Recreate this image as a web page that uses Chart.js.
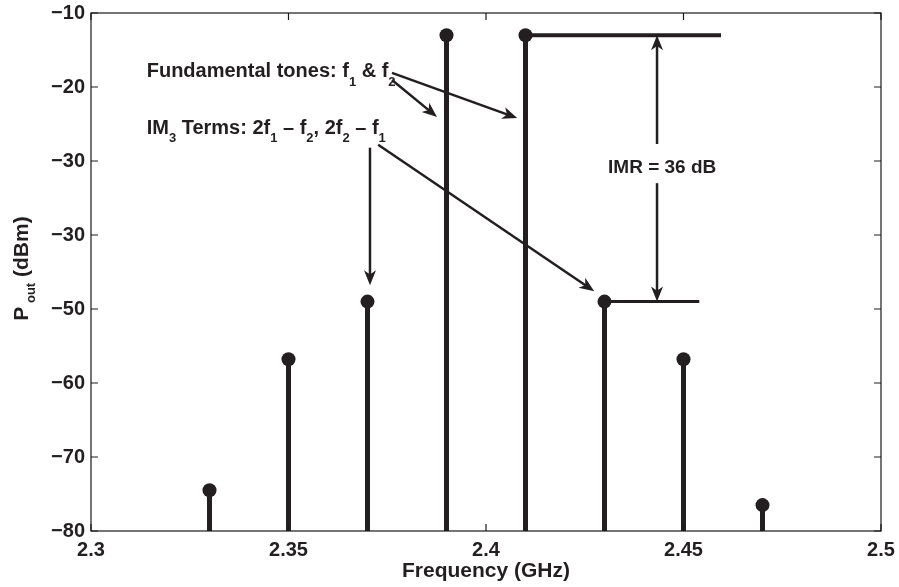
<!DOCTYPE html>
<html>
<head>
<meta charset="utf-8">
<script src="https://cdn.jsdelivr.net/npm/chart.js@4/dist/chart.umd.min.js"></script>
<style>
  html, body { margin: 0; padding: 0; background: #ffffff; }
  #wrap { width: 899px; height: 587px; }
</style>
</head>
<body>
<div id="wrap"><canvas id="spectrum" width="899" height="587"></canvas></div>
<script>
// Two-tone output spectrum: tone frequencies (GHz) and output power (dBm)
const frequencies = [2.33, 2.35, 2.37, 2.39, 2.41, 2.43, 2.45, 2.47];
const powerDbm    = [-74.5, -56.8, -49, -13, -13, -49, -56.8, -76.5];

// Axis tick labels, bottom to top / left to right
const xTickLabels = ['2.3', '2.35', '2.4', '2.45', '2.5'];
const yTickLabels = ['\u221280', '\u221270', '\u221260', '\u221250', '\u221230', '\u221230', '\u221220', '\u221210'];

// Levels used for the IMR marker
const fundamentalDbm = powerDbm[4];
const im3Dbm = powerDbm[5];
const imrDb = fundamentalDbm - im3Dbm;

const FONT = "'Liberation Sans', Arial, Helvetica, sans-serif";
const INK = '#231f20';

function setFont(ctx, size) { ctx.font = 'bold ' + size + 'px ' + FONT; }

// Draws text made of normal and subscript runs; y is the baseline
function richText(ctx, parts, x, y, size, align, subSize, subDrop) {
  subSize = subSize || 12;
  subDrop = subDrop || 8;
  const widths = parts.map(p => { setFont(ctx, p[1] ? subSize : size); return ctx.measureText(p[0]).width; });
  const total = widths.reduce((a, b) => a + b, 0);
  let cx = align === 'center' ? x - total / 2 : x;
  ctx.textAlign = 'left';
  ctx.textBaseline = 'alphabetic';
  parts.forEach((p, i) => {
    setFont(ctx, p[1] ? subSize : size);
    ctx.fillText(p[0], cx, y + (p[1] ? subDrop : 0));
    cx += widths[i];
  });
}

function arrowHead(ctx, x1, y1, x2, y2) {
  const ang = Math.atan2(y2 - y1, x2 - x1);
  const len = 15, half = 6;
  const c = Math.cos(ang), s = Math.sin(ang);
  ctx.beginPath();
  ctx.moveTo(x2, y2);
  ctx.lineTo(x2 - len * c + half * s, y2 - len * s - half * c);
  ctx.lineTo(x2 - len * 0.72 * c, y2 - len * 0.72 * s);
  ctx.lineTo(x2 - len * c - half * s, y2 - len * s + half * c);
  ctx.closePath();
  ctx.fill();
}

function arrow(ctx, xs, ys, p, q, both) {
  const x1 = xs.getPixelForValue(p[0]), y1 = ys.getPixelForValue(p[1]);
  const x2 = xs.getPixelForValue(q[0]), y2 = ys.getPixelForValue(q[1]);
  const ang = Math.atan2(y2 - y1, x2 - x1);
  ctx.beginPath();
  ctx.moveTo(x1, y1);
  ctx.lineTo(x2 - 8 * Math.cos(ang), y2 - 8 * Math.sin(ang));
  ctx.stroke();
  arrowHead(ctx, x1, y1, x2, y2);
  if (both) arrowHead(ctx, x2, y2, x1, y1);
}

const spectrumDecor = {
  id: 'spectrumDecor',
  beforeDatasetsDraw(chart) {
    const { ctx, scales: { x, y } } = chart;
    ctx.save();
    ctx.strokeStyle = INK;
    ctx.lineCap = 'butt';
    // stems from the floor up to each tone
    ctx.lineWidth = 5;
    frequencies.forEach((f, i) => {
      const px = x.getPixelForValue(f);
      ctx.beginPath();
      ctx.moveTo(px, y.getPixelForValue(y.min));
      ctx.lineTo(px, y.getPixelForValue(powerDbm[i]));
      ctx.stroke();
    });
    // reference levels for the fundamental and the IM3 product
    ctx.lineWidth = 4;
    ctx.beginPath();
    ctx.moveTo(x.getPixelForValue(frequencies[4]), y.getPixelForValue(fundamentalDbm));
    ctx.lineTo(x.getPixelForValue(2.4595), y.getPixelForValue(fundamentalDbm));
    ctx.stroke();
    ctx.lineWidth = 3;
    ctx.beginPath();
    ctx.moveTo(x.getPixelForValue(frequencies[5]), y.getPixelForValue(im3Dbm));
    ctx.lineTo(x.getPixelForValue(2.454), y.getPixelForValue(im3Dbm));
    ctx.stroke();
    ctx.restore();
  },
  afterDatasetsDraw(chart) {
    const { ctx, scales: { x, y } } = chart;
    ctx.save();
    ctx.strokeStyle = INK;
    ctx.fillStyle = INK;
    ctx.lineWidth = 2.5;
    // annotation arrows
    arrow(ctx, x, y, [2.3762, -18.1], [2.4079, -24.2]);
    arrow(ctx, x, y, [2.3762, -19.05], [2.3876, -24.05]);
    arrow(ctx, x, y, [2.37063, -28.2], [2.37063, -46.8]);
    arrow(ctx, x, y, [2.3727, -27.8], [2.4274, -47.6]);
    // IMR dimension arrow, split around its label
    const imrX = 2.4433;
    arrow(ctx, x, y, [imrX, -27.7], [imrX, fundamentalDbm]);
    arrow(ctx, x, y, [imrX, -33.0], [imrX, im3Dbm]);

    // annotation texts
    ctx.fillStyle = INK;
    richText(ctx, [['Fundamental tones: f', false], ['1', true], [' & f', false], ['2', true]],
      x.getPixelForValue(2.3141), y.getPixelForValue(-18.65), 20, 'left', 13, 9);
    richText(ctx, [['IM', false], ['3', true], [' Terms: 2f', false], ['1', true], [' \u2013 f', false], ['2', true],
      [', 2f', false], ['2', true], [' \u2013 f', false], ['1', true]],
      x.getPixelForValue(2.3141), y.getPixelForValue(-26.35), 20, 'left', 13, 8);
    richText(ctx, [['IMR = ' + imrDb + ' dB', false]],
      x.getPixelForValue(2.4446), y.getPixelForValue(-31.6), 19, 'center');
    ctx.restore();
  },
  afterDraw(chart) {
    const { ctx, chartArea: a, scales: { x, y } } = chart;
    ctx.save();
    ctx.strokeStyle = '#1a1a1a';
    ctx.lineWidth = 1.2;
    ctx.strokeRect(a.left, a.top, a.right - a.left, a.bottom - a.top);
    // inward tick marks on all four sides
    const t = 7;
    ctx.beginPath();
    x.ticks.forEach(tk => {
      const px = x.getPixelForValue(tk.value);
      ctx.moveTo(px, a.bottom); ctx.lineTo(px, a.bottom - t);
      ctx.moveTo(px, a.top); ctx.lineTo(px, a.top + t);
    });
    y.ticks.forEach(tk => {
      const py = y.getPixelForValue(tk.value);
      ctx.moveTo(a.left, py); ctx.lineTo(a.left + t, py);
      ctx.moveTo(a.right, py); ctx.lineTo(a.right - t, py);
    });
    ctx.stroke();

    // axis titles
    ctx.fillStyle = INK;
    richText(ctx, [['Frequency (GHz)', false]], (a.left + a.right) / 2, 577, 21, 'center');
    ctx.translate(28, 268.5);
    ctx.rotate(-Math.PI / 2);
    richText(ctx, [['P', false], [' out', true], [' (dBm)', false]], 0, 0, 21, 'center', 13, 7);
    ctx.restore();
  }
};

new Chart(document.getElementById('spectrum'), {
  type: 'scatter',
  data: {
    datasets: [{
      data: frequencies.map((f, i) => ({ x: f, y: powerDbm[i] })),
      pointRadius: 7,
      pointHoverRadius: 7,
      pointBackgroundColor: INK,
      pointBorderColor: INK,
      pointBorderWidth: 0,
      showLine: false
    }]
  },
  options: {
    responsive: false,
    devicePixelRatio: 1,
    animation: false,
    events: [],
    clip: false,
    layout: { padding: { top: 13, right: 18, left: 0, bottom: 0 } },
    plugins: { legend: { display: false }, tooltip: { enabled: false } },
    scales: {
      x: {
        type: 'linear',
        min: 2.3, max: 2.5,
        afterBuildTicks(s) { s.ticks = xTickLabels.map(v => ({ value: parseFloat(v) })); },
        afterFit(s) { s.height = 56; s.paddingLeft = 0; s.paddingRight = 0; },
        grid: { display: false, drawTicks: false },
        border: { display: false },
        ticks: {
          padding: 7,
          color: INK,
          font: { family: FONT, size: 20, weight: 'bold' },
          maxRotation: 0,
          autoSkip: false,
          callback: (v, i) => xTickLabels[i]
        }
      },
      y: {
        type: 'linear',
        min: -80, max: -10,
        afterBuildTicks(s) { s.ticks = yTickLabels.map((_, i) => ({ value: -80 + 10 * i })); },
        afterFit(s) { s.width = 91; s.paddingTop = 0; s.paddingBottom = 0; },
        grid: { display: false, drawTicks: false },
        border: { display: false },
        ticks: {
          padding: 6,
          color: INK,
          font: { family: FONT, size: 20, weight: 'bold' },
          autoSkip: false,
          callback: (v, i) => yTickLabels[i]
        }
      }
    }
  },
  plugins: [spectrumDecor]
});
</script>
</body>
</html>
